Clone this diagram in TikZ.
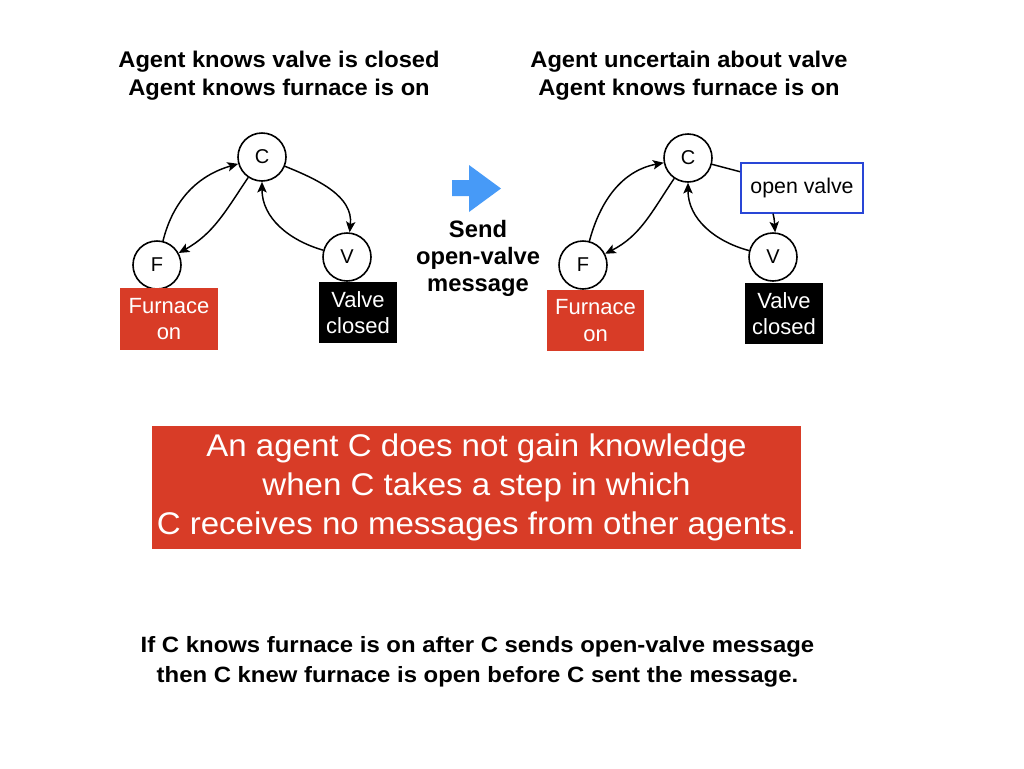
\documentclass[tikz,border=0pt]{standalone}
\usepackage{fontspec}
\setmainfont{Liberation Sans}
\usepackage{graphicx}
\usetikzlibrary{arrows.meta}
\definecolor{furnred}{HTML}{D83C27}
\definecolor{arrowblue}{HTML}{479AF7}
\definecolor{boxblue}{HTML}{2946D6}
\newcommand{\stretchlines}[2]{\scalebox{#1}[1]{\begin{tabular}[t]{@{}c@{}}#2\end{tabular}}}
\newcommand{\stretchmid}[2]{\scalebox{#1}[1]{\begin{tabular}{@{}c@{}}#2\end{tabular}}}
\tikzset{
  circ/.style={draw, circle, line width=1.2pt, minimum size=36pt, inner sep=0pt, fill=white, font=\fontsize{15}{17}\selectfont},
  redbox/.style={fill=furnred, text=white, minimum width=73.5pt, minimum height=46pt, inner sep=0pt, align=center, font=\fontsize{16.5}{20}\selectfont},
  blkbox/.style={fill=black, text=white, minimum width=58.5pt, minimum height=46pt, inner sep=0pt, align=center, font=\fontsize{16.5}{20}\selectfont},
  msgbox/.style={draw=boxblue, line width=1.5pt, fill=white, minimum width=90pt, minimum height=37pt, inner sep=0pt, font=\fontsize{16}{18}\selectfont},
  arr/.style={line width=1.1pt, -{Stealth[length=8pt,width=7pt,inset=1.8pt]}},
  conn/.style={line width=1.1pt},
  title/.style={anchor=base, inner sep=0pt, font=\bfseries\fontsize{17}{21}\selectfont},
}
\begin{document}
\begin{tikzpicture}[x=0.75pt,y=-0.75pt]
\useasboundingbox (0,0) rectangle (1024,768);

% titles
\node[title] (t1) at (279,67) {\stretchlines{1.045}{Agent knows valve is closed\\Agent knows furnace is on}};
\node[title] (t2) at (689,67) {\stretchlines{1.045}{Agent uncertain about valve\\Agent knows furnace is on}};

% left diagram
\node[circ] (C1) at (262,157) {C};
\node[circ] (F1) at (157,265) {F};
\node[circ] (V1) at (347,257) {V};
\node[redbox] (fb1) at (169,319) {Furnace\\on};
\node[blkbox] (vb1) at (358,312.5) {Valve\\closed};
\draw[arr] (F1) to[out=76,in=196] (C1);
\draw[arr] (C1) to[out=236,in=29] (F1);
\draw[arr] (C1) to[out=-22,in=84] (V1);
\draw[arr] (V1) to[out=164,in=270] (C1);

% middle arrow
\fill[arrowblue] (452,180) -- (469,180) -- (469,165) -- (501,188.5) -- (469,212) -- (469,196) -- (452,196) -- cycle;
\node[anchor=base, inner sep=0pt, font=\bfseries\fontsize{17.8}{20.25}\selectfont] (send) at (478,237) {\stretchlines{1}{Send\\open-valve\\message}};

% right diagram
\node[circ] (C2) at (688,158) {C};
\node[circ] (F2) at (583,265) {F};
\node[circ] (V2) at (773,257) {V};
\node[redbox, minimum width=72.75pt] (fb2) at (595.5,320.5) {Furnace\\on};
\node[blkbox] (vb2) at (784,313.5) {Valve\\closed};
\node[msgbox, minimum width=91.5pt] (ov) at (802,188) {open valve};
\draw[arr] (F2) to[out=75,in=191] (C2);
\draw[arr] (C2) to[out=236,in=27] (F2);
\draw[arr] (V2) to[out=165,in=270] (C2);
\draw[conn] (C2) -- (ov);
\draw[arr] ([xshift=-21.75pt]ov.south) to[out=-75,in=95] (V2.85);

% statement box
\node[fill=furnred, text=white, minimum width=486.75pt, minimum height=92.25pt, inner sep=0pt, font=\fontsize{23.5}{29.25}\selectfont] (stmt) at (476.5,487.5) {\stretchmid{1.055}{An agent C does not gain knowledge\\when C takes a step in which\\C receives no messages from other agents.}};

% bottom text
\node[anchor=base, inner sep=0pt, font=\bfseries\fontsize{16.6}{22.5}\selectfont] (concl) at (477.5,652) {\stretchlines{1.08}{If C knows furnace is on after C sends open-valve message\\then C knew furnace is open before C sent the message.}};
\end{tikzpicture}
\end{document}
